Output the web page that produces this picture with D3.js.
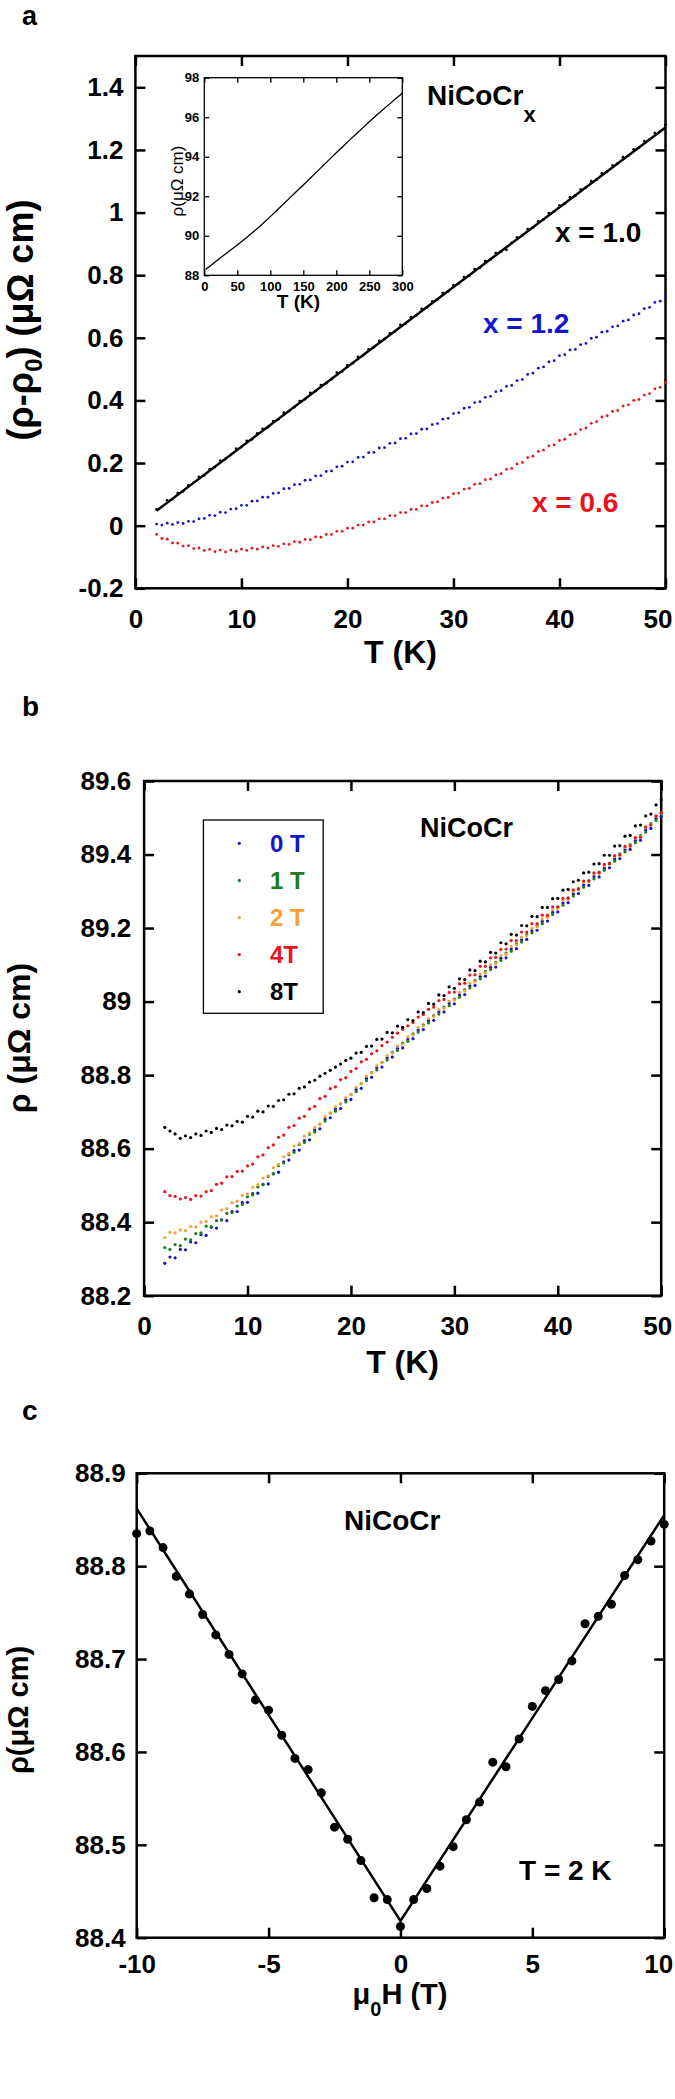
<!DOCTYPE html>
<html><head><meta charset="utf-8">
<script src="https://cdn.jsdelivr.net/npm/d3@7"></script>
<style>body{margin:0;background:#fff} svg{display:block}</style>
</head><body><svg id="chart" width="675" height="2099"></svg>
<script>
// ---------------- DATA ----------------
const T = [2,2.5,3,3.5,4,4.5,5,5.5,6,6.5,7,7.5,8,8.5,9,9.5,10,10.5,11,11.5,12,12.5,13,13.5,14,14.5,15,15.5,16,16.5,17,17.5,18,18.5,19,19.5,20,20.5,21,21.5,22,22.5,23,23.5,24,24.5,25,25.5,26,26.5,27,27.5,28,28.5,29,29.5,30,30.5,31,31.5,32,32.5,33,33.5,34,34.5,35,35.5,36,36.5,37,37.5,38,38.5,39,39.5,40,40.5,41,41.5,42,42.5,43,43.5,44,44.5,45,45.5,46,46.5,47,47.5,48,48.5,49,49.5,50];

// panel a : (rho - rho0) for NiCoCr_x
const aX10 = [0.052,0.060,0.081,0.085,0.104,0.110,0.129,0.137,0.156,0.161,
0.180,0.187,0.208,0.213,0.226,0.246,0.251,0.271,0.276,0.295,
0.309,0.314,0.333,0.340,0.361,0.366,0.379,0.398,0.404,0.424,
0.430,0.449,0.455,0.468,0.489,0.493,0.512,0.519,0.539,0.545,
0.563,0.570,0.590,0.596,0.614,0.621,0.641,0.646,0.666,0.672,
0.692,0.697,0.716,0.723,0.743,0.748,0.767,0.774,0.794,0.799,
0.819,0.824,0.845,0.850,0.870,0.876,0.881,0.903,0.921,0.927,
0.947,0.952,0.972,0.978,0.998,1.003,1.023,1.029,1.049,1.054,
1.074,1.080,1.100,1.105,1.125,1.131,1.151,1.157,1.177,1.182,
1.202,1.208,1.228,1.233,1.254,1.259,1.280];
const aX12 = [0.005,0.002,0.008,0.004,0.010,0.007,0.014,0.013,0.022,0.023,
0.033,0.032,0.043,0.042,0.053,0.054,0.065,0.065,0.078,0.079,
0.091,0.091,0.103,0.105,0.118,0.119,0.131,0.132,0.145,0.146,
0.159,0.160,0.173,0.175,0.188,0.190,0.203,0.204,0.218,0.219,
0.233,0.234,0.248,0.249,0.263,0.264,0.278,0.279,0.293,0.294,
0.308,0.309,0.323,0.326,0.340,0.343,0.358,0.361,0.375,0.378,
0.393,0.396,0.410,0.413,0.428,0.431,0.445,0.448,0.463,0.467,
0.483,0.487,0.503,0.507,0.523,0.527,0.543,0.546,0.561,0.563,
0.578,0.582,0.598,0.602,0.618,0.621,0.635,0.638,0.653,0.657,
0.673,0.677,0.693,0.697,0.713,0.717,0.733];
const aX06 = [-0.028,-0.041,-0.043,-0.055,-0.056,-0.065,-0.064,-0.073,-0.071,-0.079,
-0.076,-0.083,-0.078,-0.084,-0.078,-0.082,-0.075,-0.079,-0.072,-0.075,
-0.068,-0.071,-0.064,-0.066,-0.058,-0.060,-0.051,-0.053,-0.044,-0.045,
-0.036,-0.037,-0.028,-0.028,-0.018,-0.018,-0.008,-0.008,0.002,0.002,
0.012,0.012,0.022,0.022,0.032,0.032,0.042,0.042,0.052,0.052,
0.063,0.063,0.074,0.076,0.088,0.090,0.102,0.104,0.117,0.119,
0.132,0.134,0.147,0.149,0.162,0.166,0.180,0.183,0.197,0.202,
0.217,0.222,0.237,0.241,0.255,0.258,0.272,0.276,0.290,0.293,
0.307,0.312,0.327,0.332,0.347,0.351,0.365,0.368,0.382,0.386,
0.400,0.403,0.417,0.422,0.437,0.442,0.457];
const aFitT = [2, 50];
const aFitV = [0.048, 1.272];
const aLabels = ["x = 1.0", "x = 1.2", "x = 0.6"];

// inset : rho(T) up to 300 K
const insetT = [2,10,20,30,40,50,60,70,80,90,100,110,120,130,140,150,160,170,180,190,200,210,220,230,240,250,260,270,280,290,300];
const insetRho = [88.3,88.5,88.78,89.03,89.28,89.53,89.8,90.08,90.36,90.66,90.97,91.29,91.61,91.93,92.25,92.57,92.9,93.22,93.55,93.88,94.2,94.52,94.84,95.15,95.46,95.77,96.07,96.36,96.65,96.93,97.21];

// panel b : rho(T) at fields
const b0T = [88.288,88.305,88.303,88.326,88.325,88.346,88.344,88.366,88.364,88.386,
88.384,88.406,88.404,88.429,88.429,88.453,88.454,88.478,88.479,88.503,
88.504,88.532,88.536,88.564,88.569,88.595,88.596,88.622,88.624,88.651,
88.654,88.681,88.684,88.708,88.709,88.733,88.734,88.761,88.764,88.791,
88.794,88.820,88.822,88.847,88.849,88.873,88.874,88.898,88.899,88.923,
88.924,88.948,88.949,88.972,88.972,88.995,88.994,89.018,89.019,89.043,
89.044,89.068,89.069,89.093,89.094,89.118,89.119,89.143,89.144,89.168,
89.169,89.193,89.194,89.218,89.219,89.243,89.244,89.268,89.269,89.293,
89.294,89.317,89.316,89.340,89.339,89.363,89.364,89.388,89.389,89.413,
89.414,89.438,89.439,89.467,89.471,89.499,89.504];
const b1T = [88.331,88.326,88.339,88.336,88.354,88.352,88.369,88.371,88.389,88.388,
88.404,88.406,88.424,88.426,88.444,88.448,88.469,88.474,88.496,88.502,
88.524,88.531,88.554,88.561,88.584,88.590,88.611,88.617,88.639,88.645,
88.667,88.675,88.697,88.702,88.722,88.727,88.747,88.755,88.777,88.785,
88.807,88.814,88.835,88.841,88.862,88.867,88.887,88.892,88.912,88.917,
88.937,88.942,88.962,88.966,88.985,88.989,89.007,89.012,89.032,89.037,
89.057,89.062,89.082,89.087,89.107,89.112,89.132,89.137,89.157,89.162,
89.182,89.187,89.207,89.212,89.232,89.237,89.257,89.262,89.282,89.287,
89.307,89.311,89.329,89.334,89.352,89.357,89.377,89.382,89.402,89.407,
89.427,89.432,89.452,89.461,89.484,89.493,89.512];
const b2T = [88.358,88.372,88.371,88.379,88.377,88.388,88.387,88.400,88.402,88.415,
88.417,88.433,88.437,88.453,88.457,88.473,88.477,88.495,88.502,88.520,
88.527,88.548,88.557,88.578,88.587,88.607,88.614,88.634,88.642,88.657,
88.667,88.687,88.697,88.714,88.722,88.739,88.747,88.767,88.777,88.797,
88.806,88.826,88.834,88.853,88.860,88.879,88.884,88.904,88.909,88.929,
88.934,88.954,88.959,88.978,88.982,89.001,89.004,89.025,89.029,89.050,
89.054,89.075,89.079,89.100,89.104,89.125,89.129,89.150,89.154,89.175,
89.179,89.200,89.204,89.225,89.229,89.250,89.254,89.275,89.279,89.300,
89.304,89.324,89.326,89.347,89.349,89.370,89.374,89.395,89.399,89.420,
89.424,89.445,89.449,89.474,89.481,89.504,89.513];
const b4T = [88.483,88.472,88.470,88.463,88.467,88.462,88.472,88.471,88.483,88.486,
88.503,88.506,88.523,88.524,88.538,88.539,88.553,88.558,88.578,88.583,
88.603,88.610,88.631,88.637,88.658,88.663,88.683,88.688,88.708,88.715,
88.736,88.742,88.763,88.768,88.788,88.793,88.810,88.818,88.836,88.843,
88.858,88.866,88.880,88.890,88.903,88.914,88.925,88.934,88.943,88.958,
88.965,88.979,88.985,89.003,89.006,89.025,89.026,89.048,89.050,89.072,
89.073,89.096,89.096,89.119,89.120,89.142,89.143,89.166,89.166,89.189,
89.189,89.212,89.212,89.235,89.235,89.258,89.258,89.281,89.281,89.304,
89.306,89.328,89.328,89.350,89.351,89.373,89.375,89.397,89.399,89.422,
89.423,89.446,89.447,89.475,89.480,89.505,89.514];
const b8T = [88.658,88.648,88.640,88.628,88.635,88.630,88.640,88.636,88.648,88.644,
88.655,88.652,88.664,88.662,88.674,88.672,88.688,88.686,88.702,88.700,
88.716,88.715,88.731,88.733,88.748,88.749,88.764,88.768,88.781,88.786,
88.797,88.805,88.813,88.822,88.830,88.840,88.846,88.860,88.862,88.878,
88.879,88.897,88.898,88.916,88.915,88.933,88.930,88.951,88.948,88.972,
88.970,88.995,88.993,89.018,89.016,89.040,89.036,89.062,89.060,89.086,
89.084,89.110,89.108,89.134,89.132,89.160,89.157,89.183,89.181,89.207,
89.206,89.232,89.231,89.256,89.256,89.280,89.281,89.303,89.305,89.326,
89.330,89.350,89.352,89.374,89.375,89.398,89.398,89.423,89.424,89.450,
89.452,89.478,89.480,89.505,89.510,89.535,89.548];
const bFieldLabels = ["0 T", "1 T", "2 T", "4T", "8T"];

// panel c : rho(H) at 2 K
const cField = [-10,-9.5,-9,-8.5,-8,-7.5,-7,-6.5,-6,-5.5,-5,-4.5,-4,-3.5,-3,-2.5,-2,-1.5,-1,-0.5,0,0.5,1,1.5,2,2.5,3,3.5,4,4.5,5,5.5,6,6.5,7,7.5,8,8.5,9,9.5,10];
const cRho = [88.835,88.838,88.820,88.789,88.770,88.748,88.726,88.705,88.684,88.656,88.645,88.618,88.593,88.581,88.556,88.519,88.506,88.483,88.443,88.441,88.412,88.441,88.453,88.477,88.498,88.527,88.546,88.589,88.584,88.614,88.649,88.666,88.678,88.698,88.738,88.746,88.759,88.790,88.807,88.827,88.845];
const cFitH = [-10, 0, 10];
const cFitRho = [88.862, 88.418, 88.855];

// ticks
const aXTicks = [0,10,20,30,40,50];
const aYTicks = [-0.2,0,0.2,0.4,0.6,0.8,1,1.2,1.4];
const insetXTicks = [0,50,100,150,200,250,300];
const insetYTicks = [88,90,92,94,96,98];
const bXTicks = [0,10,20,30,40,50];
const bYTicks = [88.2,88.4,88.6,88.8,89,89.2,89.4,89.6];
const cXTicks = [-10,-5,0,5,10];
const cYTicks = [88.4,88.5,88.6,88.7,88.8,88.9];

// ---------------- DRAWING ----------------
const FONT = '"Liberation Sans", Arial, Helvetica, sans-serif';
const BLUE = '#1414c8', RED = '#e8141c', GREEN = '#1f7a1f', ORANGE = '#f7a035', BLACK = '#000';
const svg = d3.select('#chart');
svg.append('rect').attr('width', 675).attr('height', 2099).attr('fill', '#fff');
const fmt = d => String(+(+d).toFixed(1));

function axes(o) {
  const x = d3.scaleLinear().domain(o.xDomain).range([o.left, o.right]);
  const y = d3.scaleLinear().domain(o.yDomain).range([o.bottom, o.top]);
  const gs = [];
  if (o.fill) svg.append('rect').attr('x', o.left).attr('y', o.top)
      .attr('width', o.right - o.left).attr('height', o.bottom - o.top).attr('fill', o.fill);
  const gb = svg.append('g').attr('transform', `translate(0,${o.bottom})`)
    .call(d3.axisBottom(x).tickValues(o.xTicks).tickSize(-o.tick).tickPadding(o.xPad).tickFormat(fmt));
  gs.push(gb);
  gs.push(svg.append('g').attr('transform', `translate(0,${o.top})`)
    .call(d3.axisTop(x).tickValues(o.xTicks).tickSize(-o.tick).tickFormat('')));
  gs.push(svg.append('g').attr('transform', `translate(${o.left},0)`)
    .call(d3.axisLeft(y).tickValues(o.yTicks).tickSize(-o.tick).tickPadding(o.yPad).tickFormat(fmt)));
  gs.push(svg.append('g').attr('transform', `translate(${o.right},0)`)
    .call(d3.axisRight(y).tickValues(o.yTicks).tickSize(-o.tick).tickFormat('')));
  gs.forEach(g => {
    g.select('.domain').remove();
    g.selectAll('line').attr('stroke', '#000').attr('stroke-width', o.sw);
    g.selectAll('text').attr('font-family', FONT).attr('font-weight', 'bold')
      .attr('font-size', o.fs).attr('fill', '#000');
  });
  if (o.lastShift) gb.selectAll('.tick').filter((d, i, n) => i === n.length - 1)
    .select('text').attr('dx', o.lastShift);
  svg.append('rect').attr('x', o.left).attr('y', o.top)
    .attr('width', o.right - o.left).attr('height', o.bottom - o.top)
    .attr('fill', 'none').attr('stroke', '#000').attr('stroke-width', o.sw);
  return {x, y};
}

function txt(x, y, s, size, color, opts = {}) {
  return svg.append('text').attr('x', x).attr('y', y).text(s)
    .attr('font-family', FONT).attr('font-weight', opts.weight || 'bold')
    .attr('font-size', size).attr('fill', color || '#000')
    .attr('text-anchor', opts.anchor || 'start');
}
function rotLabel(cx, cy, size, build, weight) {
  const t = svg.append('text').attr('transform', `translate(${cx},${cy}) rotate(-90)`)
    .attr('text-anchor', 'middle').attr('font-family', FONT)
    .attr('font-weight', weight || 'bold').attr('font-size', size);
  build(t);
  return t;
}
function dots(sc, xs, ys, r, color) {
  svg.append('g').selectAll('circle').data(xs.map((d, i) => [d, ys[i]])).join('circle')
    .attr('cx', d => sc.x(d[0])).attr('cy', d => sc.y(d[1])).attr('r', r).attr('fill', color);
}

// panel letters
txt(22, 25, 'a', 27);
txt(22, 716, 'b', 28);
txt(22, 1420, 'c', 28);

// ---------- Panel a ----------
const A = axes({left: 135.4, right: 665.5, top: 56, bottom: 588.3, xDomain: [0, 50], yDomain: [-0.2, 1.5],
  xTicks: aXTicks, yTicks: aYTicks, tick: 10, sw: 2.5, fs: 26, xPad: 21, yPad: 12, lastShift: -8});
svg.append('path').datum(aFitT.map((d, i) => [d, aFitV[i]]))
  .attr('d', d3.line().x(d => A.x(d[0])).y(d => A.y(d[1])))
  .attr('stroke', '#000').attr('stroke-width', 2.5).attr('fill', 'none');
dots(A, T, aX10, 1.4, BLACK);
dots(A, T, aX12, 1.4, BLUE);
dots(A, T, aX06, 1.4, RED);
txt(400.5, 663, 'T (K)', 32, '#000', {anchor: 'middle'});
rotLabel(33, 320, 36, t => {
  t.append('tspan').text('(ρ-ρ');
  t.append('tspan').text('0').attr('font-size', 24).attr('dy', 9);
  t.append('tspan').text(') (μΩ cm)').attr('dy', -9);
});
const nic = txt(427, 105, 'NiCoCr', 28);
nic.append('tspan').text('x').attr('font-size', 22).attr('dy', 17);
txt(555, 242, aLabels[0], 28, BLACK);
txt(483, 333, aLabels[1], 28, BLUE);
txt(532, 512, aLabels[2], 28, RED);

// inset
const I = axes({left: 204.3, right: 402.3, top: 77.7, bottom: 275.3, xDomain: [0, 300], yDomain: [88, 98],
  xTicks: insetXTicks, yTicks: insetYTicks, tick: 5, sw: 1.3, fs: 13, xPad: 6, yPad: 5, fill: '#fff'});
svg.append('path').datum(insetT.map((d, i) => [d, insetRho[i]]))
  .attr('d', d3.line().x(d => I.x(d[0])).y(d => I.y(d[1])))
  .attr('stroke', '#000').attr('stroke-width', 1.3).attr('fill', 'none');
txt(298.5, 308, 'T (K)', 19, '#000', {anchor: 'middle'});
rotLabel(183, 181, 17, t => t.text('ρ(μΩ cm)'), 'normal');

// ---------- Panel b ----------
const B = axes({left: 144.1, right: 661.2, top: 781, bottom: 1295.7, xDomain: [0, 50], yDomain: [88.2, 89.6],
  xTicks: bXTicks, yTicks: bYTicks, tick: 10, sw: 2.5, fs: 26, xPad: 21, yPad: 13, lastShift: -4});
const bSeries = [b0T, b1T, b2T, b4T, b8T];
const bColors = [BLUE, GREEN, ORANGE, RED, BLACK];
bSeries.forEach((s, i) => dots(B, T, s, 1.6, bColors[i]));
txt(402.6, 1373, 'T (K)', 32, '#000', {anchor: 'middle'});
rotLabel(30, 1038, 32, t => t.text('ρ (μΩ cm)'));
txt(420, 837, 'NiCoCr', 27);
// legend
svg.append('rect').attr('x', 203.4).attr('y', 820).attr('width', 119.8).attr('height', 193.3)
  .attr('fill', '#fff').attr('stroke', '#000').attr('stroke-width', 1.3);
bFieldLabels.forEach((l, i) => {
  const cy = 843.3 + i * 37.1;
  svg.append('circle').attr('cx', 239.3).attr('cy', cy).attr('r', 1.6).attr('fill', bColors[i]);
  txt(270, cy + 8.6, l, 24, bColors[i]);
});

// ---------- Panel c ----------
const C = axes({left: 136.7, right: 664.2, top: 1473.3, bottom: 1937.7, xDomain: [-10, 10], yDomain: [88.4, 88.9],
  xTicks: cXTicks, yTicks: cYTicks, tick: 10, sw: 2.5, fs: 26, xPad: 17, yPad: 11, lastShift: -6});
svg.append('path').datum(cFitH.map((d, i) => [d, cFitRho[i]]))
  .attr('d', d3.line().x(d => C.x(d[0])).y(d => C.y(d[1])))
  .attr('stroke', '#000').attr('stroke-width', 2.5).attr('fill', 'none');
dots(C, cField, cRho, 4.5, BLACK);
txt(344, 1530, 'NiCoCr', 28);
txt(519, 1880, 'T = 2 K', 28);
const mu = txt(400, 2004, 'μ', 29, '#000', {anchor: 'middle'});
mu.append('tspan').text('0').attr('font-size', 20).attr('dy', 12);
mu.append('tspan').text('H (T)').attr('dy', -12);
rotLabel(28, 1710, 29, t => t.text('ρ(μΩ cm)'));
</script></body></html>
